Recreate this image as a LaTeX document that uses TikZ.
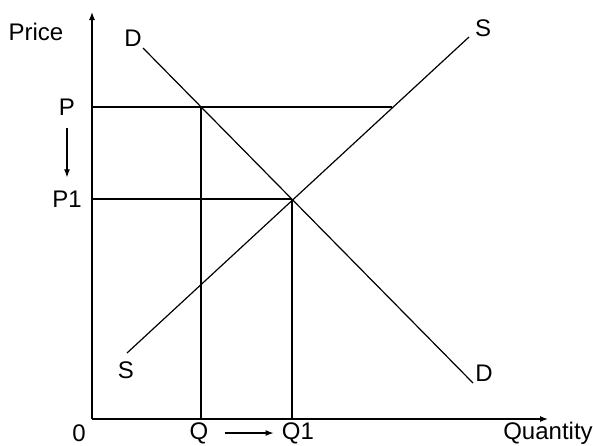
\documentclass[tikz,border=0pt]{standalone}
\usepackage{fontspec}
\setmainfont{Liberation Sans}
\usepackage{tikz}
\usetikzlibrary{arrows.meta, positioning, calc}

\begin{document}
\begin{tikzpicture}[x=0.5pt, y=-0.5pt,
    lbl/.style={inner sep=3pt, font=\fontsize{12}{14}\selectfont},
    line/.style={draw, line width=0.6pt},
    axis/.style={draw, line width=0.6pt, -{Latex[length=4pt,width=3pt]}},
    move/.style={draw, line width=0.6pt, -{Latex[length=4pt,width=3pt]}}
]
    \useasboundingbox (0,0) rectangle (593,445);

    % axes
    \coordinate (O) at (92,419);
    \coordinate (ytop) at (92,12);
    \coordinate (xend) at (548,419);
    \path [axis] (O) -- (ytop);
    \path [axis] (O) -- (xend);

    % demand and supply curves
    \coordinate (Dtop) at (143,48);
    \coordinate (Dbot) at (473,383);
    \coordinate (Sbot) at (127,353);
    \coordinate (Stop) at (469,37);
    \path [line] (Dtop) -- (Dbot);
    \path [line] (Sbot) -- (Stop);

    % price and quantity levels
    \coordinate (Pax) at (92,107);
    \coordinate (Pd) at (201,107);
    \coordinate (Ps) at (392,107);
    \coordinate (Qax) at (201,419);
    \coordinate (P1ax) at (92,199);
    \coordinate (eq) at (292,199);
    \coordinate (Q1ax) at (292,419);
    \path [line] (Pax) -- (Ps);
    \path [line] (Pd) -- (Qax);
    \path [line] (P1ax) -- (eq);
    \path [line] (eq) -- (Q1ax);

    % labels
    \node [lbl] (price) at (36,32) {Price};
    \node [lbl, inner sep=1pt] (quantity) at (548,433) {Quantity};
    \node [lbl, inner sep=1pt] (zero) at (79,433) {0};
    \node [lbl] (dtop) at (133,38) {D};
    \node [lbl] (dbot) at (484,373) {D};
    \node [lbl] (stop) at (483,28) {S};
    \node [lbl] (sbot) at (126,370) {S};
    \node [lbl] (p) at (67,107) {P};
    \node [lbl] (p1) at (67,199) {P1};
    \node [lbl, inner sep=1pt] (q) at (199,433) {Q};
    \node [lbl, inner sep=1pt] (q1) at (298,433) {Q1};

    \path [move, shorten <=3pt, shorten >=3.5pt] (p) -- (p1);
    \path [move, shorten <=7pt, shorten >=3pt] (q.east) -- (q1.west |- q.east);
\end{tikzpicture}
\end{document}
